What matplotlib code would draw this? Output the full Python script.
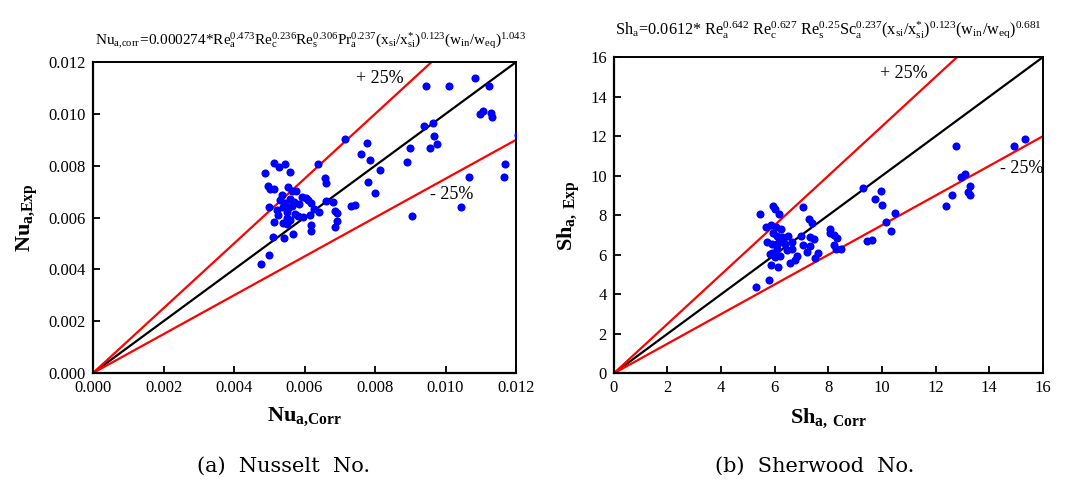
import matplotlib
matplotlib.use("Agg")
import matplotlib.pyplot as plt
from matplotlib.ticker import FormatStrFormatter, MultipleLocator

plt.rcParams['font.family'] = 'Liberation Serif'
plt.rcParams['mathtext.fontset'] = 'custom'
plt.rcParams['mathtext.rm'] = 'Liberation Serif'
plt.rcParams['mathtext.it'] = 'Liberation Serif:italic'
plt.rcParams['mathtext.bf'] = 'Liberation Serif:bold'

# Nusselt number, values in units of 1e-3
nu_corr = [10.84, 9.44, 10.09, 11.23, 10.98, 11.06, 11.28, 11.31, 9.40, 9.64,
           9.67, 9.57, 9.75, 8.99, 8.91, 9.04, 10.44, 10.67, 11.66, 11.69,
           12.05, 7.16, 7.76, 7.59, 7.87, 8.13, 7.80, 7.99, 7.31, 7.44,
           6.38, 6.57, 6.62, 6.60, 6.81, 6.85, 6.93, 6.92, 6.85, 6.19,
           6.19, 6.42, 6.28, 6.15, 4.87, 5.13, 5.28, 5.45, 5.60, 4.96,
           5.01, 5.14, 5.52, 5.63, 5.76, 5.35, 5.92, 6.04, 6.11, 6.18,
           5.30, 5.58, 4.99, 5.21, 5.40, 5.54, 5.85, 5.73, 5.82, 5.96,
           5.49, 5.59, 5.38, 5.13, 5.51, 5.66, 5.10, 5.42, 5.00, 4.76,
           5.45, 5.65, 5.25, 5.70, 5.50]
nu_exp = [11.39, 11.07, 11.06, 11.09, 9.98, 10.10, 10.03, 9.88, 9.53, 9.66,
          9.13, 8.67, 8.83, 8.69, 8.15, 6.06, 6.39, 7.56, 7.55, 8.08,
          9.17, 9.03, 8.87, 8.45, 8.21, 7.83, 7.38, 6.93, 6.46, 6.49,
          8.06, 7.51, 7.34, 6.65, 6.59, 6.26, 6.18, 5.85, 5.65, 5.70,
          5.49, 6.22, 6.34, 6.08, 7.72, 8.12, 7.96, 8.08, 7.75, 7.22,
          7.12, 7.12, 7.17, 7.01, 7.01, 6.87, 6.80, 6.76, 6.67, 6.58,
          6.67, 6.70, 6.42, 6.29, 6.42, 6.35, 6.52, 6.13, 6.07, 6.03,
          6.00, 5.90, 5.80, 5.81, 5.74, 5.35, 5.26, 5.20, 4.56, 4.20,
          6.55, 6.45, 6.10, 6.60, 6.20]
nu_corr = [v * 1e-3 for v in nu_corr]
nu_exp = [v * 1e-3 for v in nu_exp]

# Sherwood number
sh_corr = [15.34, 14.91, 12.77, 13.10, 12.95, 13.29, 13.20, 13.29, 12.61, 12.40,
           9.28, 9.97, 9.75, 10.00, 10.47, 10.16, 10.32, 9.44, 9.63, 7.04,
           7.29, 7.41, 8.07, 8.05, 8.22, 8.32, 8.22, 8.29, 8.49, 5.46,
           5.93, 6.03, 6.17, 5.66, 5.86, 6.04, 6.23, 5.93, 6.08, 6.28,
           6.49, 5.71, 5.90, 6.14, 6.39, 6.64, 6.98, 7.30, 7.45, 7.07,
           7.32, 5.90, 6.08, 6.45, 6.64, 5.84, 6.20, 7.20, 7.63, 7.51,
           6.84, 6.76, 6.56, 5.87, 6.14, 5.80, 5.31, 6.02, 6.33]
sh_exp = [11.85, 11.52, 11.52, 10.07, 9.94, 9.50, 9.16, 9.03, 9.04, 8.49,
          9.40, 9.23, 8.81, 8.54, 8.14, 7.68, 7.21, 6.72, 6.75, 8.44,
          7.80, 7.63, 7.31, 7.11, 7.01, 6.86, 6.52, 6.28, 6.31, 8.05,
          8.45, 8.30, 8.08, 7.41, 7.53, 7.41, 7.33, 7.13, 6.96, 6.91,
          6.94, 6.65, 6.57, 6.60, 6.57, 6.65, 6.96, 6.88, 6.79, 6.52,
          6.45, 6.10, 6.32, 6.23, 6.32, 6.03, 5.93, 6.15, 6.10, 5.86,
          5.93, 5.73, 5.60, 5.47, 5.39, 4.73, 4.38, 5.90, 6.74]

nu_title = (r'$\mathrm{Nu_{a{,}corr}\!=\!0.000274{*}Re_a^{0.473}Re_c^{0.236}Re_s^{0.306}'
            r'Pr_a^{0.237}(x_{si}/x_{si}^{*})^{0.123}(w_{in}/w_{eq})^{1.043}}$')
sh_title = (r'$\mathrm{Sh_a\!=\!0.0612{*}\ Re_a^{0.642}\ Re_c^{0.627}\ Re_s^{0.25}'
            r'Sc_a^{0.237}(x_{si}/x_{si}^{*})^{0.123}(w_{in}/w_{eq})^{0.681}}$')

fig = plt.figure(figsize=(10.72, 4.88), dpi=100)
ax1 = fig.add_axes([0.0868, 0.2357, 0.3946, 0.637])
ax2 = fig.add_axes([0.5725, 0.2348, 0.4003, 0.648])


def draw_panel(ax, xs, ys, lim):
    ax.plot([0, lim], [0, lim], color='black', lw=1.6, zorder=2)
    ax.plot([0, lim / 1.25], [0, lim], color='red', lw=1.6, zorder=2)
    ax.plot([0, lim], [0, lim * 0.75], color='red', lw=1.6, zorder=2)
    ax.scatter(xs, ys, s=34, color='#0000ff', zorder=3, linewidths=0)
    ax.set_xlim(0, lim)
    ax.set_ylim(0, lim)
    for sp in ['top', 'right']:
        ax.spines[sp].set_linewidth(1.4)
    for sp in ['left', 'bottom']:
        ax.spines[sp].set_linewidth(1.6)
    ax.tick_params(direction='in', length=5, width=1.3, labelsize=12,
                   top=False, right=False, pad=5)


draw_panel(ax1, nu_corr, nu_exp, 0.012)
ax1.xaxis.set_major_locator(MultipleLocator(0.002))
ax1.yaxis.set_major_locator(MultipleLocator(0.002))
ax1.xaxis.set_major_formatter(FormatStrFormatter('%.3f'))
ax1.yaxis.set_major_formatter(FormatStrFormatter('%.3f'))
ax1.text(0.00813, 0.01137, '+ 25%', fontsize=13, ha='center', va='center')
ax1.text(0.01017, 0.0069, '- 25%', fontsize=13, ha='center', va='center')
ax1.set_xlabel(r'$\mathbf{Nu}_{\mathbf{a{,}Corr}}$', fontsize=16, labelpad=7)
ax1.set_ylabel(r'$\mathbf{Nu}_{\mathbf{a{,}Exp}}$', fontsize=16, labelpad=6)

draw_panel(ax2, sh_corr, sh_exp, 16)
ax2.xaxis.set_major_locator(MultipleLocator(2))
ax2.yaxis.set_major_locator(MultipleLocator(2))
ax2.text(10.83, 15.17, '+ 25%', fontsize=13, ha='center', va='center')
ax2.text(15.2, 10.35, '- 25%', fontsize=13, ha='center', va='center')
ax2.set_xlabel(r'$\mathbf{Sh}_{\mathbf{a,\ Corr}}$', fontsize=16, labelpad=7)
ax2.set_ylabel(r'$\mathbf{Sh}_{\mathbf{a,\ Exp}}$', fontsize=16, labelpad=6)

fig.text(95 / 1072, 1 - 45 / 488, nu_title, fontsize=11, ha='left', va='baseline')
fig.text(615 / 1072, 1 - 35 / 488, sh_title, fontsize=11.7, ha='left', va='baseline')

fig.text(284 / 1072, 1 - 466 / 488, '(a)  Nusselt  No.', fontsize=15,
         family='DejaVu Serif', ha='center', va='center')
fig.text(815 / 1072, 1 - 466 / 488, '(b)  Sherwood  No.', fontsize=15,
         family='DejaVu Serif', ha='center', va='center')

fig.savefig('out.png', dpi=100)
